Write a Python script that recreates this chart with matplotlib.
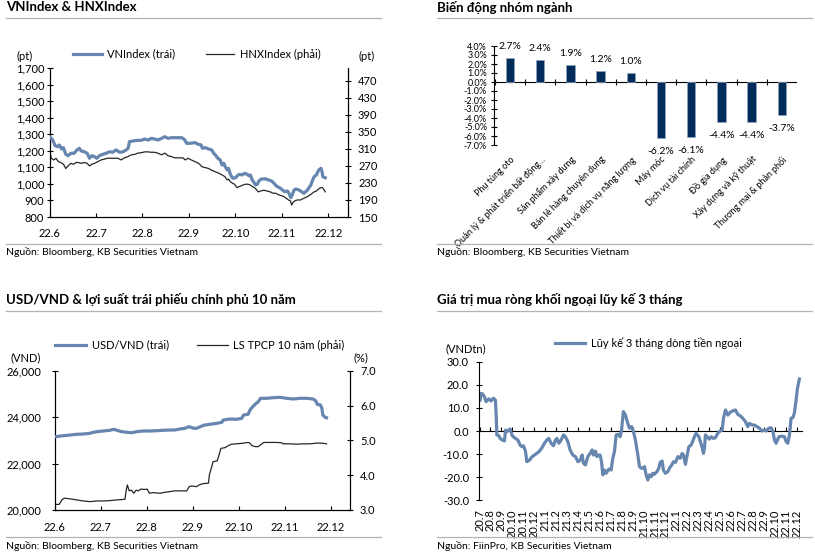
import matplotlib
matplotlib.use("Agg")
import matplotlib.pyplot as plt
from matplotlib.lines import Line2D
from matplotlib.ticker import FuncFormatter
from matplotlib.transforms import ScaledTranslation
import numpy as np

plt.rcParams['font.family'] = ['Lato', 'Noto Sans', 'DejaVu Sans']
plt.rcParams['font.size'] = 8
plt.rcParams['axes.linewidth'] = 0.8

W, H = 815, 558
BLUE = '#6786af'
DARK = '#262626'
NAVY = '#012b59'
RULE = '#b3b3b3'

# ---------------- data ----------------
# x = months since 22.6 (panels 1 and 3), months since 20.7 (panel 4)
months = ['22.6', '22.7', '22.8', '22.9', '22.10', '22.11', '22.12']

vnindex = [(0.00, 1285), (0.07, 1265), (0.12, 1231), (0.17, 1225), (0.21, 1235), (0.26, 1211),
           (0.30, 1219), (0.35, 1179), (0.40, 1170), (0.46, 1185), (0.53, 1185), (0.59, 1205),
           (0.64, 1215), (0.68, 1199), (0.75, 1194), (0.81, 1185), (0.86, 1155), (0.91, 1170),
           (0.97, 1164), (1.02, 1155), (1.07, 1170), (1.15, 1179), (1.22, 1185), (1.29, 1194),
           (1.36, 1191), (1.43, 1205), (1.51, 1191), (1.58, 1194), (1.65, 1205), (1.69, 1215),
           (1.72, 1255), (1.79, 1259), (1.90, 1263), (1.97, 1263), (2.05, 1271), (2.12, 1265),
           (2.19, 1275), (2.26, 1271), (2.33, 1265), (2.41, 1275), (2.48, 1285), (2.55, 1275),
           (2.62, 1279), (2.73, 1279), (2.84, 1279), (2.87, 1275), (2.91, 1265), (2.95, 1245),
           (3.02, 1245), (3.13, 1249), (3.20, 1239), (3.26, 1235), (3.29, 1215), (3.35, 1219),
           (3.42, 1211), (3.49, 1205), (3.53, 1185), (3.57, 1174), (3.62, 1155), (3.67, 1145),
           (3.71, 1114), (3.75, 1124), (3.78, 1104), (3.82, 1084), (3.85, 1094), (3.89, 1058),
           (3.94, 1034), (4.00, 1037), (4.06, 1054), (4.09, 1058), (4.14, 1054), (4.20, 1064),
           (4.25, 1058), (4.29, 1049), (4.32, 1054), (4.36, 1023), (4.39, 1013), (4.43, 993),
           (4.47, 998), (4.50, 1017), (4.56, 1030), (4.65, 1030), (4.72, 1023), (4.78, 1017),
           (4.83, 1003), (4.86, 993), (4.90, 983), (4.95, 977), (5.01, 963), (5.06, 953),
           (5.12, 957), (5.15, 943), (5.19, 917), (5.22, 933), (5.26, 963), (5.30, 969),
           (5.37, 963), (5.42, 953), (5.47, 943), (5.51, 953), (5.55, 963), (5.58, 977),
           (5.62, 993), (5.66, 1023), (5.69, 1043), (5.74, 1054), (5.79, 1084), (5.84, 1094),
           (5.86, 1074), (5.88, 1043), (5.93, 1037)]

hnxindex = [(0.00, 305), (0.04, 288), (0.09, 284), (0.14, 288), (0.19, 280), (0.24, 278),
            (0.30, 274), (0.35, 264), (0.40, 270), (0.46, 276), (0.52, 274), (0.57, 278),
            (0.62, 278), (0.68, 276), (0.75, 278), (0.81, 276), (0.86, 270), (0.91, 274),
            (0.97, 276), (1.04, 280), (1.11, 284), (1.18, 286), (1.25, 288), (1.33, 288),
            (1.40, 288), (1.47, 288), (1.54, 284), (1.61, 289), (1.69, 292), (1.76, 296),
            (1.83, 297), (1.90, 300), (1.97, 301), (2.05, 303), (2.12, 303), (2.19, 302),
            (2.26, 302), (2.33, 300), (2.41, 296), (2.48, 300), (2.55, 294), (2.62, 292),
            (2.69, 289), (2.78, 289), (2.87, 289), (2.92, 284), (2.98, 288), (3.05, 284),
            (3.13, 280), (3.21, 276), (3.28, 268), (3.35, 266), (3.42, 264), (3.49, 260),
            (3.57, 256), (3.64, 253), (3.71, 249), (3.77, 245), (3.82, 237), (3.85, 239),
            (3.89, 233), (3.94, 229), (3.98, 227), (4.03, 219), (4.07, 221), (4.14, 224),
            (4.21, 227), (4.27, 227), (4.32, 225), (4.37, 221), (4.43, 217), (4.49, 209),
            (4.54, 211), (4.61, 213), (4.68, 211), (4.75, 209), (4.80, 206), (4.86, 206),
            (4.93, 202), (4.99, 200), (5.04, 198), (5.09, 194), (5.14, 190), (5.18, 188),
            (5.21, 178), (5.24, 185), (5.28, 188), (5.33, 190), (5.40, 190), (5.47, 194),
            (5.55, 198), (5.62, 203), (5.69, 209), (5.74, 211), (5.80, 217), (5.84, 219),
            (5.87, 219), (5.91, 213), (5.93, 209)]

sectors = ['Phụ tùng oto', 'Quản lý & phát triển bất động...', 'Sản phẩm xây dựng',
           'Bán lẻ hàng chuyên dụng', 'Thiết bị và dịch vụ năng lượng', 'Máy móc',
           'Dịch vụ tài chính', 'Đồ gia dụng', 'Xây dựng và kỹ thuật', 'Thương mại & phân phối']
sector_chg = [2.7, 2.4, 1.9, 1.2, 1.0, -6.2, -6.1, -4.4, -4.4, -3.7]

usdvnd = [(0.02, 23157), (0.19, 23200), (0.34, 23230), (0.48, 23260), (0.62, 23273), (0.77, 23303),
          (0.84, 23346), (0.92, 23372), (1.06, 23403), (1.20, 23433), (1.29, 23476), (1.35, 23433),
          (1.46, 23372), (1.57, 23346), (1.67, 23329), (1.78, 23372), (1.93, 23403), (2.07, 23403),
          (2.22, 23415), (2.36, 23433), (2.51, 23446), (2.61, 23446), (2.72, 23489), (2.83, 23519),
          (2.88, 23562), (2.92, 23588), (2.98, 23545), (3.03, 23519), (3.08, 23519), (3.16, 23588),
          (3.26, 23661), (3.37, 23691), (3.52, 23734), (3.63, 23777), (3.66, 23876), (3.81, 23919),
          (3.95, 23906), (4.06, 23949), (4.10, 24092), (4.20, 24122), (4.24, 24307), (4.30, 24449),
          (4.35, 24552), (4.42, 24664), (4.47, 24811), (4.60, 24811), (4.75, 24837), (4.89, 24854),
          (5.04, 24811), (5.18, 24781), (5.33, 24811), (5.47, 24811), (5.61, 24781), (5.67, 24695),
          (5.70, 24552), (5.77, 24522), (5.80, 24380), (5.82, 24092), (5.87, 23992), (5.90, 23975)]

bond10y = [(0.02, 3.16), (0.10, 3.16), (0.16, 3.29), (0.21, 3.34), (0.34, 3.32), (0.48, 3.29),
           (0.62, 3.26), (0.77, 3.24), (0.92, 3.26), (1.06, 3.26), (1.20, 3.27), (1.35, 3.29),
           (1.46, 3.30), (1.53, 3.31), (1.55, 3.53), (1.58, 3.72), (1.62, 3.55), (1.67, 3.57),
           (1.72, 3.48), (1.77, 3.57), (1.82, 3.55), (1.87, 3.60), (1.96, 3.59), (2.01, 3.60),
           (2.06, 3.48), (2.14, 3.50), (2.29, 3.48), (2.40, 3.51), (2.51, 3.53), (2.61, 3.55),
           (2.69, 3.55), (2.79, 3.55), (2.87, 3.55), (2.92, 3.67), (2.98, 3.69), (3.08, 3.67),
           (3.14, 3.72), (3.23, 3.76), (3.34, 3.77), (3.36, 4.01), (3.41, 4.24), (3.44, 4.39),
           (3.53, 4.41), (3.58, 4.63), (3.61, 4.77), (3.70, 4.79), (3.77, 4.85), (3.84, 4.89),
           (3.95, 4.90), (4.10, 4.92), (4.20, 4.94), (4.24, 4.92), (4.28, 4.85), (4.35, 4.82),
           (4.42, 4.82), (4.47, 4.87), (4.54, 4.94), (4.67, 4.94), (4.82, 4.94), (4.93, 4.93),
           (4.96, 4.90), (5.11, 4.90), (5.25, 4.89), (5.40, 4.90), (5.54, 4.90), (5.69, 4.92),
           (5.80, 4.92), (5.90, 4.90)]

flow_months = ['20.7', '20.8', '20.9', '20.10', '20.11', '20.12', '21.1', '21.2', '21.3', '21.4',
               '21.5', '21.6', '21.7', '21.8', '21.9', '21.10', '21.11', '21.12', '22.1', '22.2',
               '22.3', '22.4', '22.5', '22.6', '22.7', '22.8', '22.9', '22.10', '22.11', '22.12']

foreign_flow = [(0.05, 13.4), (0.15, 16.3), (0.30, 15.9), (0.45, 14.8), (0.60, 12.7), (0.85, 13.9),
                (1.06, 13.0), (1.27, 14.2), (1.45, 13.4), (1.52, 6.9), (1.58, -1.7), (1.76, -2.0),
                (1.88, -3.2), (2.07, -3.9), (2.28, -4.3), (2.37, 0.4), (2.49, -0.3), (2.68, 0.4),
                (2.80, 0.9), (2.98, -2.0), (3.19, -2.9), (3.50, -3.9), (3.71, -6.1), (3.89, -6.8),
                (4.01, -6.4), (4.20, -8.7), (4.32, -13.3), (4.56, -12.6), (4.81, -11.1), (5.11, -10.1),
                (5.42, -9.0), (5.72, -7.2), (5.93, -5.3), (6.15, -3.9), (6.33, -3.2), (6.54, -5.3),
                (6.76, -6.4), (6.94, -3.9), (7.07, -3.2), (7.25, -5.3), (7.46, -3.9), (7.67, -1.7),
                (7.85, -2.5), (8.07, -4.6), (8.28, -8.2), (8.53, -10.4), (8.77, -11.1), (8.99, -13.3),
                (9.20, -12.6), (9.38, -10.4), (9.50, -14.0), (9.68, -14.7), (9.90, -11.1), (10.11, -9.7),
                (10.29, -8.2), (10.41, -10.4), (10.60, -8.7), (10.72, -11.1), (10.90, -10.4),
                (11.02, -10.4), (11.15, -13.3), (11.27, -19.0), (11.42, -16.9), (11.57, -18.3),
                (11.82, -16.5), (12.03, -16.9), (12.18, -11.8), (12.33, -9.0), (12.49, -1.7),
                (12.73, -1.4), (12.85, -2.5), (12.97, 0.0), (13.15, 8.4), (13.34, 6.9), (13.55, 3.3),
                (13.70, 1.2), (13.89, 1.9), (14.07, -0.3), (14.25, -3.9), (14.47, -10.4),
                (14.62, -15.4), (14.77, -16.1), (14.93, -16.1), (15.08, -15.4), (15.23, -19.0),
                (15.38, -21.2), (15.53, -19.0), (15.69, -19.8), (15.84, -18.3), (15.99, -18.7),
                (16.21, -17.6), (16.39, -16.1), (16.51, -13.6), (16.69, -13.0), (16.81, -16.9),
                (16.99, -18.3), (17.21, -17.6), (17.36, -16.1), (17.61, -14.4), (17.72, -13.3),
                (17.91, -13.6), (18.13, -11.1), (18.34, -11.8), (18.52, -9.7), (18.64, -10.4),
                (18.82, -14.4), (18.95, -11.1), (19.13, -6.8), (19.34, -6.1), (19.50, -4.3),
                (19.64, -2.5), (19.80, -1.0), (20.05, -2.5), (20.19, -4.6), (20.35, -7.2),
                (20.47, -9.7), (20.56, -7.5), (20.65, -1.7), (20.80, -2.5), (21.01, -3.5),
                (21.17, -2.5), (21.38, -3.2), (21.56, -2.9), (21.78, -1.0), (21.99, 0.0), (22.18, 0.4),
                (22.30, 5.5), (22.48, 9.1), (22.70, 6.9), (22.91, 8.1), (23.15, 8.7), (23.39, 9.1),
                (23.61, 7.2), (23.82, 6.6), (24.07, 5.5), (24.31, 4.0), (24.52, 1.9), (24.67, 3.3),
                (24.92, 2.6), (25.13, 2.6), (25.35, 1.9), (25.59, 1.2), (25.83, 0.0), (26.04, 0.4),
                (26.20, 0.0), (26.44, 1.2), (26.65, 1.4), (26.81, 0.0), (26.96, -3.9), (27.11, -5.3),
                (27.36, -2.5), (27.66, -2.2), (27.87, -2.5), (28.03, -4.6), (28.18, -5.3),
                (28.33, -1.7), (28.48, 5.5), (28.64, 5.8), (28.78, 7.7), (28.94, 13.4), (29.06, 18.5),
                (29.24, 22.5)]


# ---------------- helpers ----------------
def rect(l, t, r, b):
    return [l / W, 1 - b / H, (r - l) / W, (b - t) / H]


def header(x0, x1, y_text, y_rule, text):
    fig.text(x0 / W, 1 - y_text / H, text, fontsize=9.5, fontweight='bold', ha='left', va='center')
    fig.add_artist(Line2D([x0 / W, x1 / W], [1 - y_rule / H] * 2, color=RULE, lw=0.9))


def footer(x0, x1, y_rule, y_text, text):
    fig.add_artist(Line2D([x0 / W, x1 / W], [1 - y_rule / H] * 2, color=RULE, lw=0.9))
    fig.text(x0 / W, 1 - y_text / H, text, fontsize=7.5, ha='left', va='center')


def ftext(x, y, s, **kw):
    fig.text(x / W, 1 - y / H, s, ha='center', va='center', **kw)


def unzip(pairs):
    return [p[0] for p in pairs], [p[1] for p in pairs]


comma = FuncFormatter(lambda v, p: f'{v:,.0f}')
one_dec = FuncFormatter(lambda v, p: f'{v:.1f}')

fig = plt.figure(figsize=(W / 100, H / 100), dpi=100)

# ---------------- panel 1: VNIndex & HNXIndex ----------------
header(6, 381, 7, 18, 'VNIndex & HNXIndex')
ax1 = fig.add_axes(rect(49.5, 68, 348, 217))
ax1b = ax1.twinx()
x, y = unzip(vnindex)
l_vn, = ax1.plot(x, y, color=BLUE, lw=2.3, solid_joinstyle='round', zorder=3)
x, y = unzip(hnxindex)
l_hnx, = ax1b.plot(x, y, color=DARK, lw=0.9)
ax1.set_zorder(ax1b.get_zorder() + 1)
ax1.patch.set_visible(False)
ax1.set_xlim(0, 6.42)
ax1.set_ylim(800, 1700)
ax1.set_yticks(range(800, 1701, 100))
ax1.yaxis.set_major_formatter(comma)
ax1b.set_ylim(150, 500)
ax1b.set_yticks(range(150, 471, 40))
ax1.set_xticks(range(7))
ax1.set_xticklabels(months)
for a in (ax1, ax1b):
    a.spines['top'].set_visible(False)
ax1.tick_params(axis='y', direction='inout', length=4.5, pad=1.5)
ax1b.tick_params(axis='y', direction='inout', length=4.5, pad=5)
ax1.tick_params(axis='x', direction='in', length=3, pad=8)
fig.legend([l_vn, l_hnx], ['VNIndex (trái)', 'HNXIndex (phải)'], loc='center left',
           bbox_to_anchor=(73 / W, 1 - 54 / H), ncol=2, frameon=False, fontsize=8,
           handlelength=2.6, handletextpad=0.5, columnspacing=2.7, borderpad=0, borderaxespad=0)
ftext(25, 56, '(pt)')
ftext(367, 56, '(pt)')
footer(6, 381, 244, 252, 'Nguồn: Bloomberg, KB Securities Vietnam')

# ---------------- panel 2: sector changes ----------------
header(437, 812, 7, 18, 'Biến động nhóm ngành')
ax2 = fig.add_axes(rect(494, 46, 796, 145))
pos = np.arange(len(sectors))
ax2.bar(pos, sector_chg, width=0.28, color=NAVY, edgecolor='#8ea3bf', linewidth=0.5)
for i, v in zip(pos, sector_chg):
    ax2.annotate(f'{v:.1f}%', (i, v), xytext=(0, 8.3 if v > 0 else -9.8),
                 textcoords='offset points', ha='center', va='center', fontsize=7.5)
ax2.set_xlim(-0.53, 9.47)
ax2.set_ylim(-7, 4)
ax2.set_yticks(range(-7, 5))
ax2.yaxis.set_major_formatter(FuncFormatter(lambda v, p: f'{v:.1f}%'))
for s in ('top', 'right', 'bottom'):
    ax2.spines[s].set_visible(False)
ax2.tick_params(axis='y', direction='inout', length=4, pad=3, labelsize=6.5)
ax2.set_xticks(pos)
ax2.set_xticklabels(sectors, rotation=45, ha='right', va='top', rotation_mode='anchor', fontsize=6.5)
ax2.tick_params(axis='x', length=0, pad=7)
zero2 = ax2.secondary_xaxis(7 / 11)
zero2.set_xticks(np.arange(-0.5, 10, 1))
zero2.tick_params(direction='inout', length=4, labeltop=False, labelbottom=False)
footer(437, 812, 244, 252, 'Nguồn: Bloomberg, KB Securities Vietnam')

# ---------------- panel 3: USD/VND & bond yield ----------------
header(6, 381, 300, 311, 'USD/VND & lợi suất trái phiếu chính phủ 10 năm')
ax3 = fig.add_axes(rect(54.5, 370.7, 350, 510))
ax3b = ax3.twinx()
x, y = unzip(usdvnd)
l_usd, = ax3.plot(x, y, color=BLUE, lw=2.3, solid_joinstyle='round', zorder=3)
x, y = unzip(bond10y)
l_bond, = ax3b.plot(x, y, color=DARK, lw=0.9)
ax3.set_zorder(ax3b.get_zorder() + 1)
ax3.patch.set_visible(False)
ax3.set_xlim(0, 6.41)
ax3.set_ylim(20000, 26000)
ax3.set_yticks(range(20000, 26001, 2000))
ax3.yaxis.set_major_formatter(comma)
ax3b.set_ylim(3, 7)
ax3b.set_yticks(range(3, 8))
ax3b.yaxis.set_major_formatter(one_dec)
ax3.set_xticks(range(7))
ax3.set_xticklabels(months)
shift = ScaledTranslation(4 / 100, 0, fig.dpi_scale_trans)
for lbl in ax3.get_xticklabels():
    lbl.set_transform(lbl.get_transform() + shift)
for a in (ax3, ax3b):
    a.spines['top'].set_visible(False)
ax3.tick_params(axis='y', direction='inout', length=4.5, pad=7)
ax3b.tick_params(axis='y', direction='inout', length=4.5, pad=5)
ax3.tick_params(axis='x', direction='in', length=3, pad=8.5)
fig.legend([l_usd, l_bond], ['USD/VND (trái)', 'LS TPCP 10 năm (phải)'], loc='center left',
           bbox_to_anchor=(55 / W, 1 - 345 / H), ncol=2, frameon=False, fontsize=8,
           handlelength=2.8, handletextpad=0.5, columnspacing=2.5, borderpad=0, borderaxespad=0)
ftext(26, 358, '(VND)')
ftext(361, 358, '(%)')
footer(6, 381, 537, 546, 'Nguồn: Bloomberg, KB Securities Vietnam')

# ---------------- panel 4: foreign net buying ----------------
header(437, 812, 300, 311, 'Giá trị mua ròng khối ngoại lũy kế 3 tháng')
ax4 = fig.add_axes(rect(479, 361.7, 801.7, 500.3))
x, y = unzip(foreign_flow)
l_flow, = ax4.plot(x, y, color=BLUE, lw=2.3, solid_joinstyle='round')
ax4.set_xlim(-0.05, 29.45)
ax4.set_ylim(-30, 30)
ax4.set_yticks(range(-30, 31, 10))
ax4.yaxis.set_major_formatter(one_dec)
for s in ('top', 'right', 'bottom'):
    ax4.spines[s].set_visible(False)
ax4.tick_params(axis='y', direction='inout', length=4.5, pad=5)
ax4.set_xticks(range(len(flow_months)))
ax4.set_xticklabels(flow_months, rotation=90, ha='center', va='top')
ax4.tick_params(axis='x', length=0, pad=6.5)
zero4 = ax4.secondary_xaxis(0.5)
zero4.set_xticks(range(len(flow_months)))
zero4.tick_params(direction='out', length=3, labeltop=False, labelbottom=False)
fig.legend([l_flow], ['Lũy kế 3 tháng dòng tiền ngoại'], loc='center left',
           bbox_to_anchor=(555 / W, 1 - 343 / H), frameon=False, fontsize=8,
           handlelength=2.7, handletextpad=0.5, borderpad=0, borderaxespad=0)
ftext(466, 349, '(VNDtn)')
footer(437, 812, 537, 546, 'Nguồn: FiinPro, KB Securities Vietnam')

fig.savefig('out.png', dpi=100)
